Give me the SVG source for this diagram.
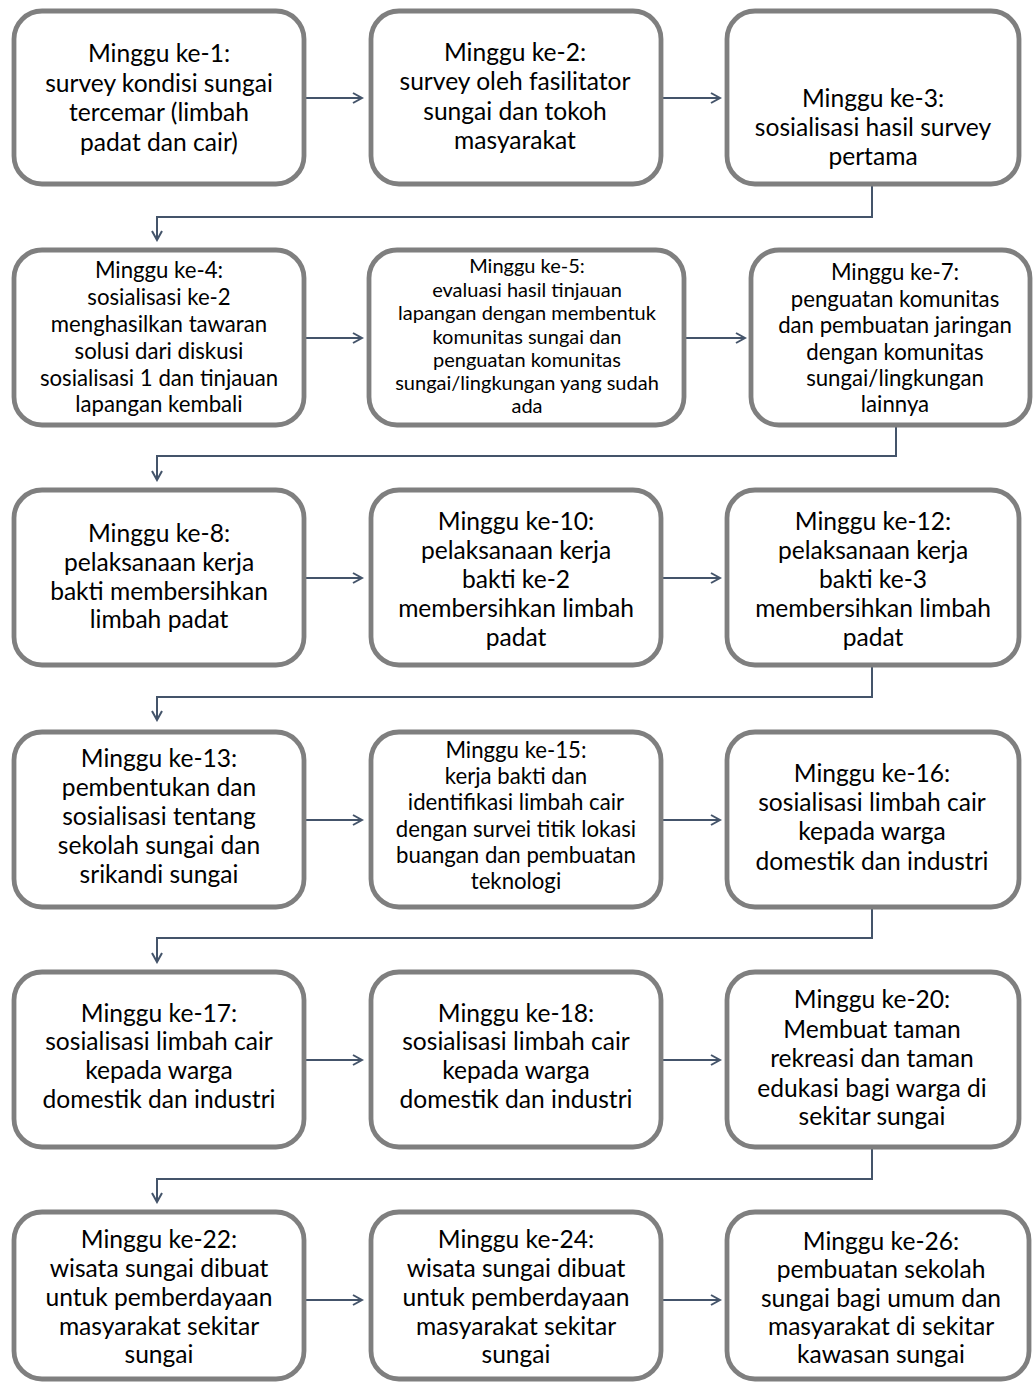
<svg xmlns="http://www.w3.org/2000/svg" width="1033" height="1383" viewBox="0 0 1033 1383">
<style>
.box rect{fill:#fff;stroke:#7f7f7f;stroke-width:4.8}
.box text{font-family:Lato,"Open Sans",sans-serif;font-size:24.6px;text-anchor:middle;fill:#000}
.box text.sm{font-size:22.2px}
.box text.xs{font-size:20px}
.conn path{fill:none;stroke:#44546a;stroke-width:2}
</style>
<defs>
<marker id="ah" viewBox="0 0 12 12" refX="10" refY="6" markerWidth="12" markerHeight="12" markerUnits="userSpaceOnUse" orient="auto">
<path d="M1,1 L10,6 L1,11" fill="none" stroke="#44546a" stroke-width="2"/>
</marker>
</defs>
<rect width="1033" height="1383" fill="#fff"/>
<g class="conn">
<path d="M304,98 H362" marker-end="url(#ah)"/>
<path d="M661,98 H720" marker-end="url(#ah)"/>
<path d="M872,184 V217 H157 V240" marker-end="url(#ah)"/>
<path d="M304,338 H362" marker-end="url(#ah)"/>
<path d="M684,338 H745" marker-end="url(#ah)"/>
<path d="M896,425 V456 H157 V480" marker-end="url(#ah)"/>
<path d="M304,578 H362" marker-end="url(#ah)"/>
<path d="M661,578 H720" marker-end="url(#ah)"/>
<path d="M872,665 V697 H157 V720" marker-end="url(#ah)"/>
<path d="M304,820 H362" marker-end="url(#ah)"/>
<path d="M661,820 H720" marker-end="url(#ah)"/>
<path d="M872,907 V938 H157 V962" marker-end="url(#ah)"/>
<path d="M304,1060 H362" marker-end="url(#ah)"/>
<path d="M661,1060 H720" marker-end="url(#ah)"/>
<path d="M872,1147 V1179 H157 V1202" marker-end="url(#ah)"/>
<path d="M304,1300 H362" marker-end="url(#ah)"/>
<path d="M661,1300 H720" marker-end="url(#ah)"/>
</g>
<g id="n1" class="box"><rect x="14" y="11" width="290" height="173" rx="28"/>
<text x="159" y="62">Minggu ke-1:</text><text x="159" y="92">survey kondisi sungai</text><text x="159" y="121">tercemar (limbah</text><text x="159" y="151">padat dan cair)</text></g>
<g id="n2" class="box"><rect x="371" y="11" width="290" height="173" rx="28"/>
<text x="515" y="61">Minggu ke-2:</text><text x="515" y="90">survey oleh fasilitator</text><text x="515" y="120">sungai dan tokoh</text><text x="515" y="149">masyarakat</text></g>
<g id="n3" class="box"><rect x="727" y="11" width="292" height="173" rx="28"/>
<text x="873" y="107">Minggu ke-3:</text><text x="873" y="136">sosialisasi hasil survey</text><text x="873" y="165">pertama</text></g>
<g id="n4" class="box"><rect x="14" y="250" width="290" height="175" rx="28"/>
<text class="sm" x="159" y="278">Minggu ke-4:</text><text class="sm" x="159" y="305">sosialisasi ke-2</text><text class="sm" x="159" y="332">menghasilkan tawaran</text><text class="sm" x="159" y="359">solusi dari diskusi</text><text class="sm" x="159" y="386">sosialisasi 1 dan tinjauan</text><text class="sm" x="159" y="412">lapangan kembali</text></g>
<g id="n5" class="box"><rect x="369" y="250" width="315" height="175" rx="28"/>
<text class="xs" x="527" y="273">Minggu ke-5:</text><text class="xs" x="527" y="297">evaluasi hasil tinjauan</text><text class="xs" x="527" y="320">lapangan dengan membentuk</text><text class="xs" x="527" y="344">komunitas sungai dan</text><text class="xs" x="527" y="367">penguatan komunitas</text><text class="xs" x="527" y="390">sungai/lingkungan yang sudah</text><text class="xs" x="527" y="413">ada</text></g>
<g id="n7" class="box"><rect x="751" y="250" width="279" height="175" rx="28"/>
<text class="sm" x="895" y="280">Minggu ke-7:</text><text class="sm" x="895" y="307">penguatan komunitas</text><text class="sm" x="895" y="333">dan pembuatan jaringan</text><text class="sm" x="895" y="360">dengan komunitas</text><text class="sm" x="895" y="386">sungai/lingkungan</text><text class="sm" x="895" y="412">lainnya</text></g>
<g id="n8" class="box"><rect x="14" y="490" width="290" height="175" rx="28"/>
<text x="159" y="542">Minggu ke-8:</text><text x="159" y="571">pelaksanaan kerja</text><text x="159" y="600">bakti membersihkan</text><text x="159" y="628">limbah padat</text></g>
<g id="n10" class="box"><rect x="371" y="490" width="290" height="175" rx="28"/>
<text x="516" y="530">Minggu ke-10:</text><text x="516" y="559">pelaksanaan kerja</text><text x="516" y="588">bakti ke-2</text><text x="516" y="617">membersihkan limbah</text><text x="516" y="646">padat</text></g>
<g id="n12" class="box"><rect x="727" y="490" width="292" height="175" rx="28"/>
<text x="873" y="530">Minggu ke-12:</text><text x="873" y="559">pelaksanaan kerja</text><text x="873" y="588">bakti ke-3</text><text x="873" y="617">membersihkan limbah</text><text x="873" y="646">padat</text></g>
<g id="n13" class="box"><rect x="14" y="732" width="290" height="175" rx="28"/>
<text x="159" y="767">Minggu ke-13:</text><text x="159" y="796">pembentukan dan</text><text x="159" y="825">sosialisasi tentang</text><text x="159" y="854">sekolah sungai dan</text><text x="159" y="883">srikandi sungai</text></g>
<g id="n15" class="box"><rect x="371" y="732" width="290" height="175" rx="28"/>
<text class="sm" x="516" y="758">Minggu ke-15:</text><text class="sm" x="516" y="784">kerja bakti dan</text><text class="sm" x="516" y="810">identifikasi limbah cair</text><text class="sm" x="516" y="837">dengan survei titik lokasi</text><text class="sm" x="516" y="863">buangan dan pembuatan</text><text class="sm" x="516" y="889">teknologi</text></g>
<g id="n16" class="box"><rect x="727" y="732" width="292" height="175" rx="28"/>
<text x="872" y="782">Minggu ke-16:</text><text x="872" y="811">sosialisasi limbah cair</text><text x="872" y="840">kepada warga</text><text x="872" y="870">domestik dan industri</text></g>
<g id="n17" class="box"><rect x="14" y="972" width="290" height="175" rx="28"/>
<text x="159" y="1022">Minggu ke-17:</text><text x="159" y="1050">sosialisasi limbah cair</text><text x="159" y="1079">kepada warga</text><text x="159" y="1108">domestik dan industri</text></g>
<g id="n18" class="box"><rect x="371" y="972" width="290" height="175" rx="28"/>
<text x="516" y="1022">Minggu ke-18:</text><text x="516" y="1050">sosialisasi limbah cair</text><text x="516" y="1079">kepada warga</text><text x="516" y="1108">domestik dan industri</text></g>
<g id="n20" class="box"><rect x="727" y="972" width="292" height="175" rx="28"/>
<text x="872" y="1008">Minggu ke-20:</text><text x="872" y="1038">Membuat taman</text><text x="872" y="1067">rekreasi dan taman</text><text x="872" y="1097">edukasi bagi warga di</text><text x="872" y="1125">sekitar sungai</text></g>
<g id="n22" class="box"><rect x="14" y="1212" width="290" height="167" rx="28"/>
<text x="159" y="1248">Minggu ke-22:</text><text x="159" y="1277">wisata sungai dibuat</text><text x="159" y="1306">untuk pemberdayaan</text><text x="159" y="1335">masyarakat sekitar</text><text x="159" y="1363">sungai</text></g>
<g id="n24" class="box"><rect x="371" y="1212" width="290" height="167" rx="28"/>
<text x="516" y="1248">Minggu ke-24:</text><text x="516" y="1277">wisata sungai dibuat</text><text x="516" y="1306">untuk pemberdayaan</text><text x="516" y="1335">masyarakat sekitar</text><text x="516" y="1363">sungai</text></g>
<g id="n26" class="box"><rect x="727" y="1212" width="302" height="167" rx="28"/>
<text x="881" y="1250">Minggu ke-26:</text><text x="881" y="1278">pembuatan sekolah</text><text x="881" y="1307">sungai bagi umum dan</text><text x="881" y="1335">masyarakat di sekitar</text><text x="881" y="1363">kawasan sungai</text></g>
</svg>
